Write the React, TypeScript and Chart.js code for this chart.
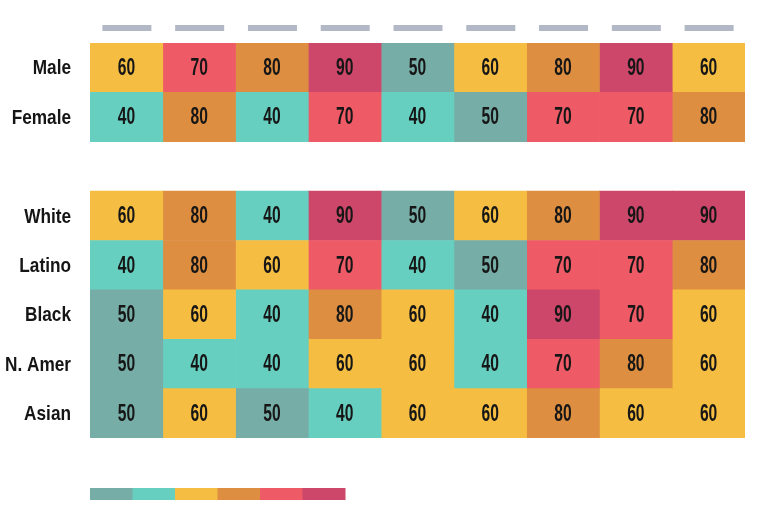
import React, { useEffect, useRef } from "react";
import { Chart, registerables } from "chart.js";

Chart.register(...registerables);

const rowLabels = ["Male", "Female", "", "White", "Latino", "Black", "N. Amer", "Asian"];
const columnCount = 9;

const male = [60, 70, 80, 90, 50, 60, 80, 90, 60];
const female = [40, 80, 40, 70, 40, 50, 70, 70, 80];
const gapRow: (number | null)[] = [null, null, null, null, null, null, null, null, null];
const white = [60, 80, 40, 90, 50, 60, 80, 90, 90];
const latino = [40, 80, 60, 70, 40, 50, 70, 70, 80];
const black = [50, 60, 40, 80, 60, 40, 90, 70, 60];
const nAmer = [50, 40, 40, 60, 60, 40, 70, 80, 60];
const asian = [50, 60, 50, 40, 60, 60, 80, 60, 60];

const rows: (number | null)[][] = [male, female, gapRow, white, latino, black, nAmer, asian];

const colorByValue: Record<number, string> = {
  40: "#66CFC0",
  50: "#77ADA7",
  60: "#F5BD42",
  70: "#EE5A66",
  80: "#DD8E40",
  90: "#CC4769",
};

const legendValues = [50, 40, 60, 80, 70, 90];

const cellValue = (r: number, c: number) => rows[r][c];

const FONT = "'Liberation Sans', Arial, sans-serif";

const overlayPlugin = {
  id: "overlay",
  afterDatasetsDraw(chart: any) {
    const ctx = chart.ctx as CanvasRenderingContext2D;
    ctx.save();
    // value labels
    ctx.fillStyle = "#161616";
    ctx.font = "bold 23px " + FONT;
    ctx.textAlign = "center";
    ctx.textBaseline = "middle";
    chart.data.datasets.forEach((ds: any, di: number) => {
      const meta = chart.getDatasetMeta(di);
      meta.data.forEach((el: any, ri: number) => {
        const v = cellValue(ri, di);
        if (v == null) return;
        const cx = (el.x + el.base) / 2;
        const cy = el.y + 1;
        ctx.save();
        ctx.translate(cx, cy);
        ctx.scale(0.68, 1);
        ctx.fillText(String(v), 0, 0);
        ctx.restore();
      });
    });
    // row labels (condensed)
    const ys = chart.scales.y;
    ctx.fillStyle = "#151515";
    ctx.font = "bold 21px " + FONT;
    ctx.textAlign = "right";
    rowLabels.forEach((lab, i) => {
      if (!lab) return;
      const cy = ys.getPixelForValue(i) + 1;
      ctx.save();
      ctx.translate(71, cy);
      ctx.scale(0.82, 1);
      ctx.fillText(lab, 0, 0);
      ctx.restore();
    });
    // column placeholder dashes
    const xs = chart.scales.x;
    ctx.fillStyle = "#B3B8C6";
    for (let i = 0; i < columnCount; i++) {
      const cx = xs.getPixelForValue(i + 0.5);
      ctx.fillRect(cx - 24, 25, 49, 6);
    }
    // color legend bar
    const segW = 42.5;
    legendValues.forEach((v, k) => {
      ctx.fillStyle = colorByValue[v];
      ctx.fillRect(90 + k * segW, 488, segW + 0.5, 12);
    });
    ctx.restore();
  },
};

export default function App() {
  const ref = useRef<HTMLCanvasElement | null>(null);
  useEffect(() => {
    if (!ref.current) return;
    const datasets = Array.from({ length: columnCount }, (_, c) => ({
      label: "col" + (c + 1),
      data: rows.map((r) => (r[c] == null ? null : 1)),
      backgroundColor: rows.map((r) => (r[c] == null ? "rgba(0,0,0,0)" : colorByValue[r[c] as number])),
      borderWidth: 0,
      barPercentage: 1,
      categoryPercentage: 1,
    }));
    const chart = new Chart(ref.current, {
      type: "bar",
      data: { labels: rowLabels, datasets },
      options: {
        animation: false,
        responsive: false,
        indexAxis: "y",
        layout: { padding: { left: 0, top: 43, right: 15, bottom: 87 } },
        plugins: { legend: { display: false }, tooltip: { enabled: false } },
        scales: {
          x: { stacked: true, min: 0, max: columnCount, display: false },
          y: {
            stacked: true,
            grid: { display: false, drawTicks: false },
            border: { display: false },
            ticks: { display: false },
            afterFit(scale: any) {
              scale.width = 90;
            },
          },
        },
      } as any,
      plugins: [overlayPlugin],
    });
    return () => chart.destroy();
  }, []);
  return (
    <div style={{ position: "absolute", left: 0, top: 0, width: 760, height: 525, background: "#fff" }}>
      <canvas ref={ref} width={760} height={525} style={{ width: 760, height: 525, display: "block" }} />
    </div>
  );
}
